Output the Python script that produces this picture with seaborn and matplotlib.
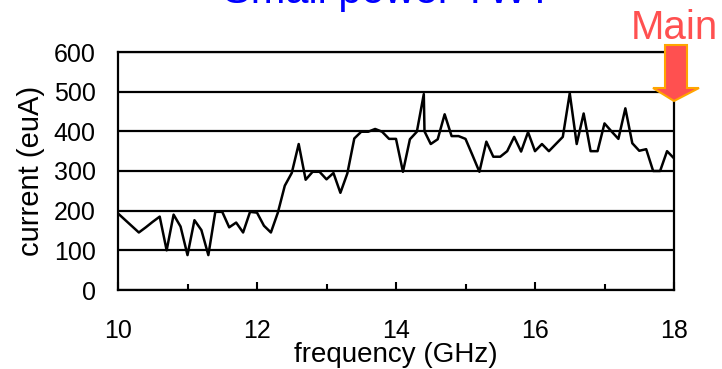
import matplotlib
matplotlib.use("Agg")
import matplotlib.pyplot as plt
from matplotlib.patches import Polygon
from matplotlib.ticker import MultipleLocator
import seaborn as sns
import pandas as pd

freq = [10.0, 10.1, 10.2, 10.3, 10.4, 10.5, 10.6, 10.7, 10.8, 10.9,
        11.0, 11.1, 11.2, 11.3, 11.4, 11.5, 11.6, 11.7, 11.8, 11.9,
        12.0, 12.1, 12.2, 12.3, 12.4, 12.5, 12.6, 12.7, 12.8, 12.9,
        13.0, 13.1, 13.2, 13.3, 13.4, 13.5, 13.6, 13.7, 13.8, 13.9,
        14.0, 14.1, 14.2, 14.3, 14.4, 14.41, 14.5, 14.6, 14.7, 14.8, 14.9,
        15.0, 15.1, 15.2, 15.3, 15.4, 15.5, 15.6, 15.7, 15.8, 15.9,
        16.0, 16.1, 16.2, 16.3, 16.4, 16.5, 16.6, 16.7, 16.8, 16.9,
        17.0, 17.1, 17.2, 17.3, 17.4, 17.5, 17.6, 17.7, 17.8, 17.9,
        18.0]
current = [193, 177, 161, 145, 158, 172, 185, 100, 190, 160,
           88, 176, 151, 88, 197, 197, 158, 170, 145, 197,
           195, 162, 145, 195, 263, 295, 368, 278, 298, 298,
           279, 295, 245, 294, 382, 399, 399, 406, 399, 381,
           381, 298, 380, 399, 494, 400, 368, 380, 443, 388, 388,
           381, 340, 298, 374, 336, 336, 350, 386, 349, 398,
           350, 368, 350, 368, 386, 496, 368, 445, 350, 350,
           420, 400, 381, 458, 370, 351, 355, 300, 300, 350,
           332]

x_ticks = [10, 12, 14, 16, 18]
y_ticks = [0, 100, 200, 300, 400, 500, 600]
title_text = "Small power TWT"
marker_text = "Main"

sns.set_theme(style="white")
plt.rcParams['font.family'] = ['Liberation Sans', 'DejaVu Sans']

W, H = 722, 369
fig = plt.figure(figsize=(W / 100, H / 100), dpi=100)
ax = fig.add_axes([118 / W, 1 - 290 / H, (674 - 118) / W, (290 - 52) / H])

df = pd.DataFrame({"frequency": freq, "current": current})
sns.lineplot(data=df, x="frequency", y="current", ax=ax, color="black",
             linewidth=1.8, sort=False, estimator=None, zorder=3)

ax.set_xlim(10, 18)
ax.set_ylim(0, 600)
ax.set_xticks(x_ticks)
ax.xaxis.set_minor_locator(MultipleLocator(1))
ax.set_yticks(y_ticks)
ax.yaxis.grid(True, color="black", linewidth=1.6)
ax.xaxis.grid(False)
ax.set_axisbelow(True)
for side in ["left", "bottom", "right", "top"]:
    ax.spines[side].set_visible(True)
    ax.spines[side].set_color("black")
    ax.spines[side].set_linewidth(1.6)

ax.tick_params(axis="x", which="major", direction="in", length=6, width=1.5,
               color="black", labelsize=18, pad=21, bottom=True)
ax.tick_params(axis="x", which="minor", direction="in", length=4, width=1.5,
               color="black", bottom=True)
ax.tick_params(axis="y", which="both", length=0, labelsize=18, pad=16)

ax.set_xlabel("frequency (GHz)", fontsize=20, labelpad=-1, color="black")
ax.set_ylabel("current (euA)", fontsize=21, labelpad=6, color="black")
for lab in ax.get_xticklabels() + ax.get_yticklabels():
    lab.set_color("black")

fig.text(388 / W, 1 - 3 / H, title_text, color="#0000FF", fontsize=30,
         ha="center", va="baseline")
fig.text(674 / W, 1 - 39 / H, marker_text, color="#FF5050", fontsize=29,
         ha="center", va="baseline")

arrow_px = [(665, 45), (687, 45), (687, 88), (699, 88), (674, 101),
            (653, 88), (665, 88)]
arrow_pts = [(px / W, 1 - py / H) for px, py in arrow_px]
fig.patches.append(Polygon(arrow_pts, closed=True, transform=fig.transFigure,
                           facecolor="#FF5050", edgecolor="#FFA500",
                           linewidth=1.5, zorder=5))

fig.savefig("out.png", dpi=100)
